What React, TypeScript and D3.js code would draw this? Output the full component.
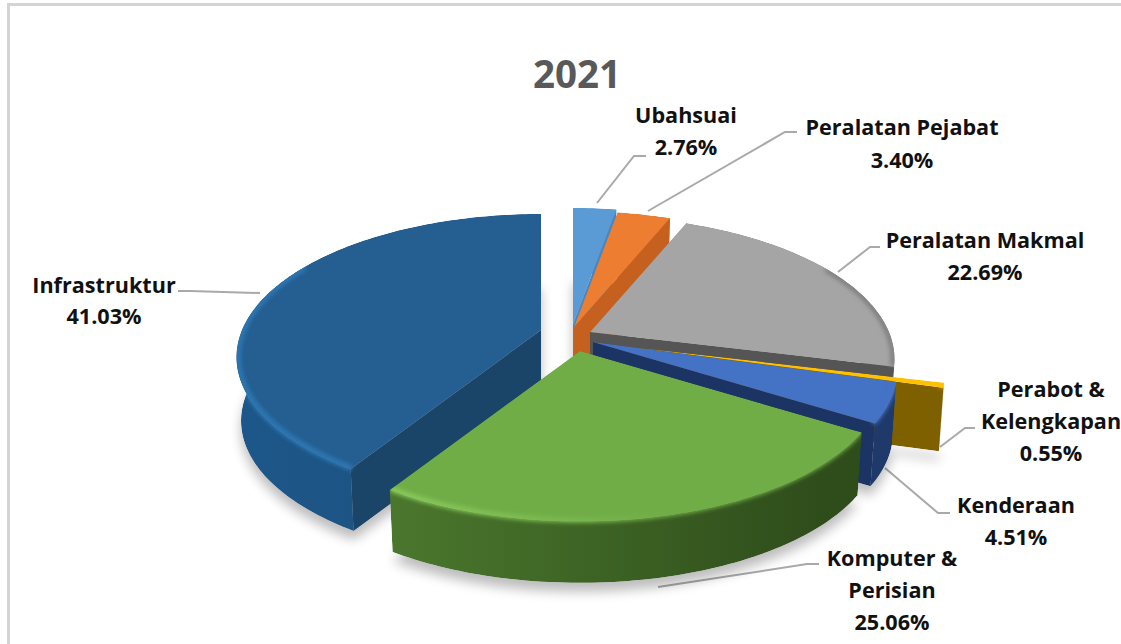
import React from "react";
import * as d3 from "d3";

const title = "2021";
const categories = ["Ubahsuai", "Peralatan Pejabat", "Peralatan Makmal", "Perabot & Kelengkapan", "Kenderaan", "Komputer & Perisian", "Infrastruktur"];
const shares = [2.76, 3.4, 22.69, 0.55, 4.51, 25.06, 41.03];
const shareLabels = ["2.76%", "3.40%", "22.69%", "0.55%", "4.51%", "25.06%", "41.03%"];

// styling and layout (separate from the values)
const topColors = ["#5b9bd5", "#ed7d31", "#a5a5a5", "#ffc000", "#4472c4", "#70ad47", "#255e91"];
const wallLeft = ["#4a88c2", "#c8611f", "#5a5a5a", "#7f6000", "#203864", "#4f7f30", "#1d5688"];
const wallRight = ["#3f7fb8", "#c05a1c", "#666666", "#7f6000", "#1f3a6a", "#2f4d1b", "#1b4a72"];
const faceColors = ["#4a86c0", "#c5601f", "#555555", "#7f6000", "#1c3463", "#3a5c22", "#1a4569"];
const rimLeft = ["#5b9bd5", "#ed7d31", "#7d7d7d", "#ffc000", "#5a86d2", "#8fd060", "#2f7ab8"];
const rimRight = ["#5b9bd5", "#ed7d31", "#7d7d7d", "#ffc000", "#4472c4", "#70ad47", "#2f76b2"];
const apexX = [573, 574, 590, 640, 593, 580, 541];
const apexY = [324, 327, 332, 348, 342, 351, 330];
const drawOrder = [6, 0, 1, 2, 3, 4, 5];

const labelLines = [
  { x: 686, ys: [114, 146], lines: ["Ubahsuai", shareLabels[0]] },
  { x: 902, ys: [126, 159], lines: ["Peralatan Pejabat", shareLabels[1]] },
  { x: 985, ys: [239, 271], lines: ["Peralatan Makmal", shareLabels[2]] },
  { x: 1051, ys: [388, 420, 452], lines: ["Perabot &", "Kelengkapan", shareLabels[3]] },
  { x: 1016, ys: [504, 536], lines: ["Kenderaan", shareLabels[4]] },
  { x: 892, ys: [557, 589, 621], lines: ["Komputer &", "Perisian", shareLabels[5]] },
  { x: 104, ys: [284, 315], lines: ["Infrastruktur", shareLabels[6]] },
];
const leaders: [number, number][][] = [
  [[597, 203], [634, 156], [646, 156]],
  [[648, 211], [785, 132], [797, 132]],
  [[838, 272], [870, 247], [880, 247]],
  [[940, 447], [965, 428], [975, 428]],
  [[885, 468], [938, 513], [950, 513]],
  [[658, 587], [807, 564], [819, 564]],
  [[260, 293], [190, 291], [178, 291]],
];

const RX = 299, RY = 138, P = 0.19, H = 64, SHRINK = 0.985;
const FONT = "'Open Sans', 'Noto Sans', sans-serif";

type Pt = [number, number];
const project = (i: number, r: number, a: number, low = false): Pt => {
  const u = r * Math.sin(a), v = -r * Math.cos(a), s = 1 / (1 - P * v), k = low ? SHRINK : 1;
  return [apexX[i] + RX * u * s * k, apexY[i] + RY * v * s * k + (low ? H : 0)];
};
const line = d3.line<Pt>();
const sample = (a0: number, a1: number) => {
  const n = Math.max(2, Math.ceil(Math.abs(a1 - a0) / 0.02));
  return d3.range(n + 1).map((j) => a0 + ((a1 - a0) * j) / n);
};

const arcs = d3.pie<number>().sort(null).value((d) => d)(shares);

export default function App() {
  return (
    <svg width={1121} height={644} viewBox="0 0 1121 644" style={{ position: "absolute", left: 0, top: 0, display: "block", background: "#fff" }}>
      <defs>
        <filter id="soft" filterUnits="userSpaceOnUse" x={0} y={0} width={1121} height={644}><feGaussianBlur stdDeviation={2.2} /></filter>
        <filter id="shadow" filterUnits="userSpaceOnUse" x={0} y={0} width={1121} height={644}><feGaussianBlur stdDeviation={6} /></filter>
        {arcs.map((_, i) => (
          <React.Fragment key={i}>
            <linearGradient id={`wall${i}`} gradientUnits="userSpaceOnUse" x1={apexX[i] - RX} x2={apexX[i] + RX} y1={0} y2={0}>
              <stop offset={0.05} stopColor={wallLeft[i]} />
              <stop offset={0.9} stopColor={wallRight[i]} />
            </linearGradient>
            <linearGradient id={`rim${i}`} gradientUnits="userSpaceOnUse" x1={apexX[i] - RX} x2={apexX[i] + RX} y1={0} y2={0}>
              <stop offset={0.15} stopColor={rimLeft[i]} />
              <stop offset={0.65} stopColor={rimRight[i]} />
            </linearGradient>
          </React.Fragment>
        ))}
      </defs>
      <path d="M1121,4.5H8.5V644" fill="none" stroke="#d4d4d4" strokeWidth={3} />
      <text x={577} y={73} textAnchor="middle" dominantBaseline="central" fontFamily={FONT} fontWeight={700} fontSize={38.5} fill="#595959">{title}</text>
      {leaders.map((pts, i) => (
        <path key={i} d={line(pts) as string} fill="none" stroke="#a9a9a9" strokeWidth={2} />
      ))}
      {drawOrder.map((i) => {
        const { startAngle: a0, endAngle: a1 } = arcs[i];
        const angles = sample(a0, a1);
        const apex = project(i, 0, 0), apexLow = project(i, 0, 0, true);
        const outer = angles.map((a) => project(i, 1, a));
        const outerLow = angles.map((a) => project(i, 1, a, true));
        const topPath = `${line([apex, ...outer])}Z`;
        const wallPath = `${line([...outer, ...outerLow.slice().reverse()])}Z`;
        const bottomPath = `${line([apexLow, ...outerLow])}Z`;
        const faceAngle = Math.sin(a1) > 1e-6 ? a1 : Math.sin(a0) < -1e-6 ? a0 : null;
        const facePath = faceAngle === null ? null
          : `${line([apex, project(i, 1, faceAngle), project(i, 1, faceAngle, true), apexLow])}Z`;
        // the bevel: a soft lit band that straddles the front rim, fading into the wall
        const f0 = Math.max(a0, (60 * Math.PI) / 180), f1 = Math.min(a1, (300 * Math.PI) / 180);
        const frontAngles = f1 > f0 ? sample(f0, f1) : [];
        const rimPath = frontAngles.length ? line(frontAngles.map((a) => project(i, 0.995, a))) as string : null;
        return (
          <g key={i}>
            <path d={bottomPath} fill="#000" opacity={0.26} transform="translate(0,9)" filter="url(#shadow)" />
            <clipPath id={`clip${i}`}>
              <path d={topPath} />
              <path d={wallPath} />
              {facePath && <path d={facePath} />}
            </clipPath>
            <g clipPath={`url(#clip${i})`}>
              <path d={wallPath} fill={`url(#wall${i})`} />
              {facePath && <path d={facePath} fill={faceColors[i]} />}
              <path d={topPath} fill={topColors[i]} />
              {rimPath && <path d={rimPath} fill="none" stroke={`url(#rim${i})`} strokeWidth={5} filter="url(#soft)" />}
            </g>
          </g>
        );
      })}
      {labelLines.map((l, i) => (
        <g key={categories[i]} fontFamily={FONT} fontWeight={700} fontSize={21.6} fill="#111" textAnchor="middle">
          {l.lines.map((t, j) => (
            <text key={j} x={l.x} y={l.ys[j]} dominantBaseline="central">{t}</text>
          ))}
        </g>
      ))}
    </svg>
  );
}
